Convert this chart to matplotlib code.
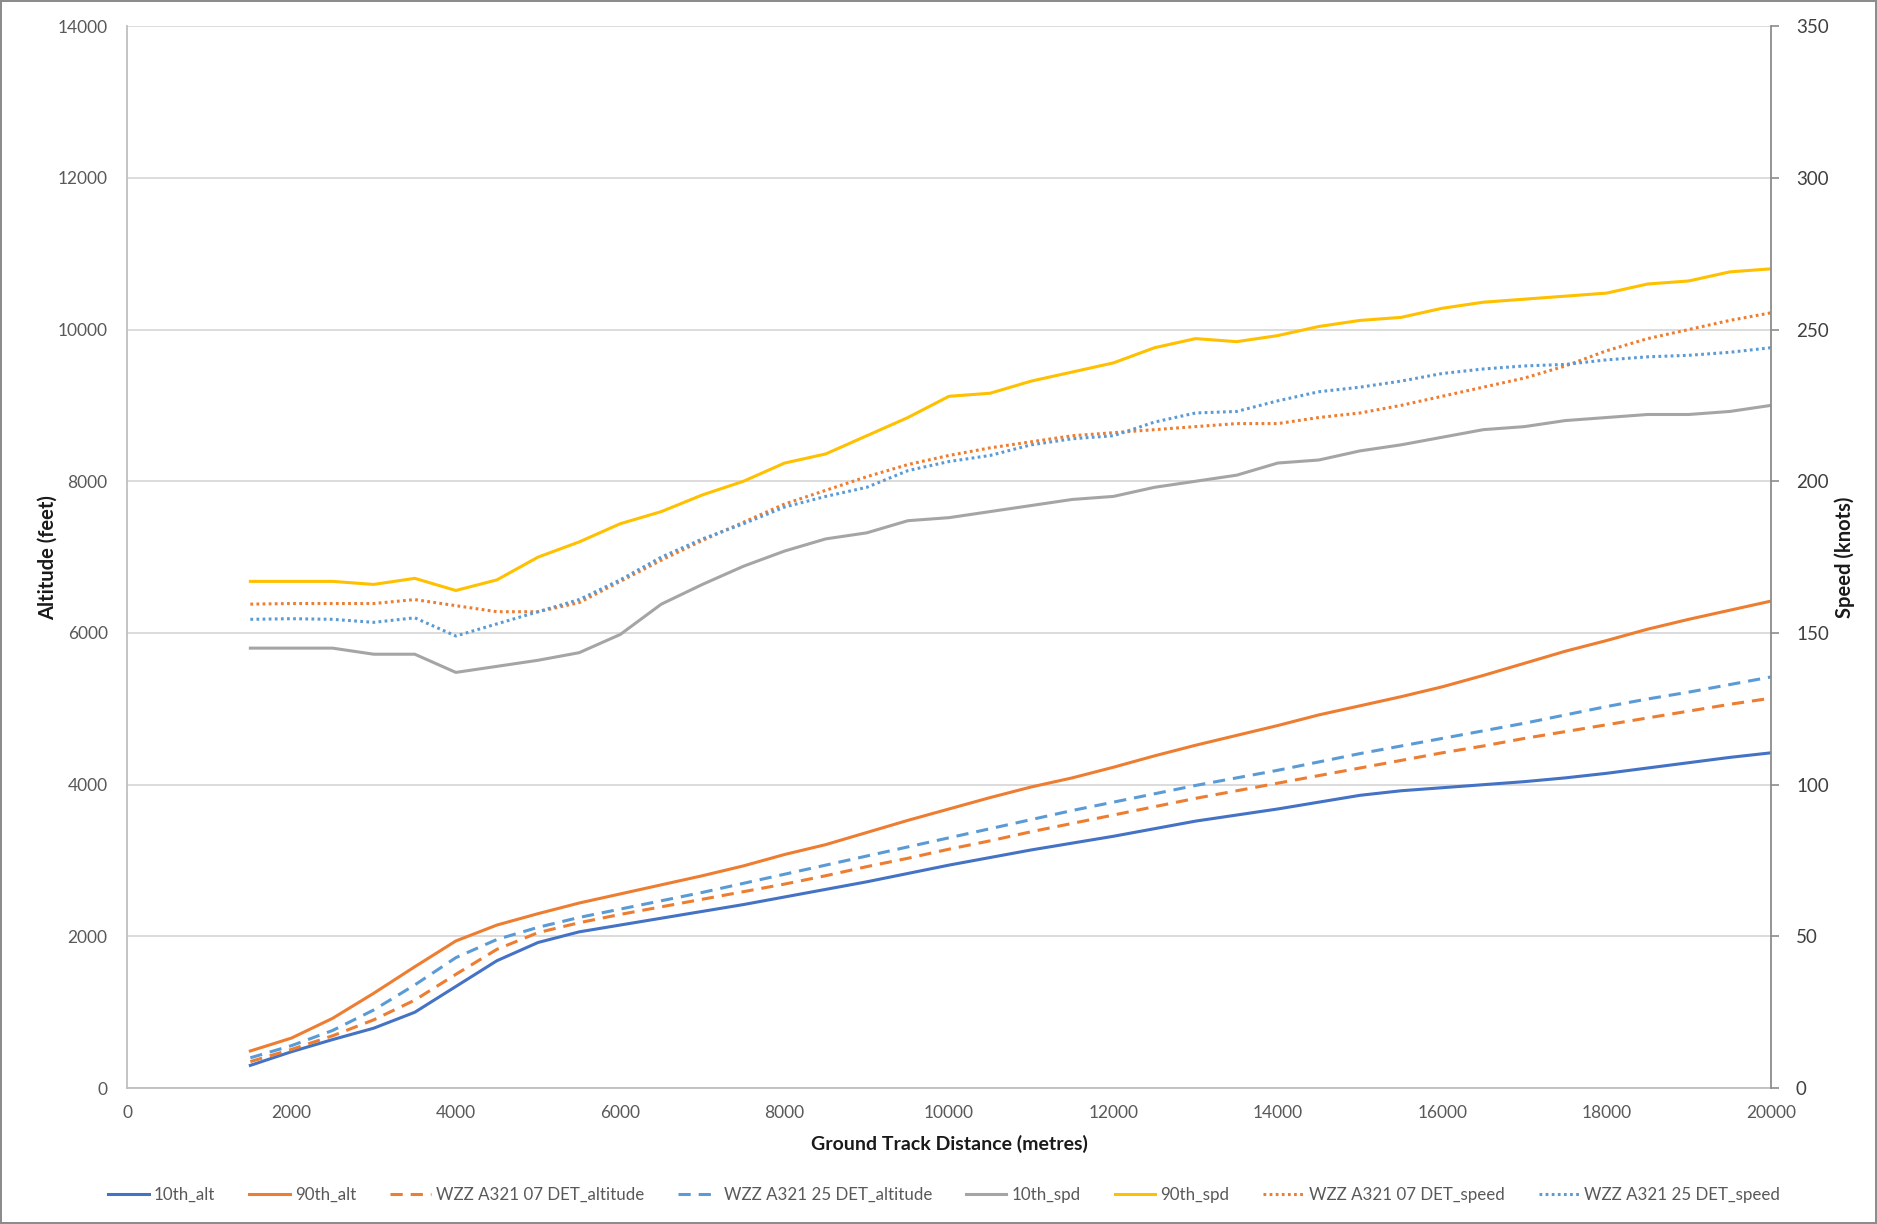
#!/usr/bin/env python3
# -*- coding: utf-8 -*-
"""Altitude / speed profiles against ground track distance (two y-axes)."""

import matplotlib
matplotlib.use('Agg')
import matplotlib.pyplot as plt

matplotlib.rcParams['font.family'] = ['Lato', 'DejaVu Sans']

# ground track distance (metres)
distance = [1500, 2000, 2500, 3000, 3500, 4000, 4500, 5000, 5500, 6000,
            6500, 7000, 7500, 8000, 8500, 9000, 9500, 10000, 10500, 11000,
            11500, 12000, 12500, 13000, 13500, 14000, 14500, 15000, 15500, 16000,
            16500, 17000, 17500, 18000, 18500, 19000, 19500, 20000]

# altitudes (feet)
alt_10th = [300, 480, 640, 790, 1000, 1340, 1680, 1920, 2060, 2150,
            2240, 2330, 2420, 2520, 2620, 2720, 2830, 2940, 3040, 3140,
            3230, 3320, 3420, 3520, 3600, 3680, 3770, 3860, 3920, 3960,
            4000, 4040, 4090, 4150, 4220, 4290, 4360, 4420]
alt_90th = [490, 660, 920, 1250, 1600, 1940, 2150, 2300, 2440, 2560,
            2680, 2800, 2930, 3080, 3210, 3370, 3530, 3680, 3830, 3970,
            4090, 4230, 4380, 4520, 4650, 4780, 4920, 5040, 5160, 5290,
            5440, 5600, 5760, 5900, 6050, 6180, 6300, 6420]
alt_det07 = [350, 510, 690, 900, 1160, 1500, 1830, 2050, 2180, 2290,
             2390, 2490, 2590, 2690, 2800, 2920, 3030, 3150, 3260, 3380,
             3490, 3600, 3710, 3820, 3920, 4020, 4120, 4220, 4320, 4420,
             4510, 4610, 4700, 4790, 4880, 4970, 5060, 5140]
alt_det25 = [400, 560, 760, 1030, 1360, 1720, 1960, 2120, 2250, 2360,
             2470, 2580, 2700, 2820, 2940, 3060, 3180, 3300, 3420, 3540,
             3660, 3770, 3880, 3990, 4090, 4190, 4300, 4410, 4510, 4610,
             4710, 4810, 4920, 5030, 5130, 5220, 5320, 5420]

# speeds (knots)
spd_10th = [145, 145, 145, 143, 143, 137, 139, 141, 143.5, 149.5,
            159.5, 166, 172, 177, 181, 183, 187, 188, 190, 192,
            194, 195, 198, 200, 202, 206, 207, 210, 212, 214.5,
            217, 218, 220, 221, 222, 222, 223, 225]
spd_90th = [167, 167, 167, 166, 168, 164, 167.5, 175, 180, 186,
            190, 195.5, 200, 206, 209, 215, 221, 228, 229, 233,
            236, 239, 244, 247, 246, 248, 251, 253, 254, 257,
            259, 260, 261, 262, 265, 266, 269, 270]
spd_det07 = [159.5, 159.7, 159.7, 159.7, 161, 159, 157, 157, 160, 167,
             174, 180.5, 186.5, 192.5, 197, 201.5, 205.5, 208.5, 211, 213,
             215, 216, 217, 218, 219, 219, 221, 222.5, 225, 228,
             231, 234, 238, 243, 247, 250, 253, 255.5]
spd_det25 = [154.5, 154.7, 154.5, 153.5, 155, 149, 153, 157, 161, 167.5,
             175, 181, 186, 191.5, 195, 198, 203.5, 206.5, 208.5, 212,
             214, 215, 219.5, 222.5, 223, 226.5, 229.5, 231, 233, 235.5,
             237, 238, 238.5, 240, 241, 241.5, 242.5, 244]

BLUE = '#4472C4'
ORANGE = '#ED7D31'
LBLUE = '#5B9BD5'
GRAY = '#A5A5A5'
GOLD = '#FFC000'

fig = plt.figure(figsize=(18.77, 12.24), dpi=100)
fig.patch.set_edgecolor('#8c8c8c')
fig.patch.set_linewidth(1.5)
ax = fig.add_axes([0.0677, 0.111, 0.8758, 0.8677])
ax2 = ax.twinx()

lw = 2.2
dash = (0, (4, 2.6))
dot = (0, (0.9, 1.1))

h1, = ax.plot(distance, alt_10th, color=BLUE, lw=lw, label='10th_alt')
h2, = ax.plot(distance, alt_90th, color=ORANGE, lw=lw, label='90th_alt')
h3, = ax.plot(distance, alt_det07, color=ORANGE, lw=lw, linestyle=dash,
              label='WZZ A321 07 DET_altitude')
h4, = ax.plot(distance, alt_det25, color=LBLUE, lw=lw, linestyle=dash,
              label='WZZ A321 25 DET_altitude')
h5, = ax2.plot(distance, spd_10th, color=GRAY, lw=lw, label='10th_spd')
h6, = ax2.plot(distance, spd_90th, color=GOLD, lw=lw, label='90th_spd')
h7, = ax2.plot(distance, spd_det07, color=ORANGE, lw=lw, linestyle=dot,
               label='WZZ A321 07 DET_speed')
h8, = ax2.plot(distance, spd_det25, color=LBLUE, lw=lw, linestyle=dot,
               label='WZZ A321 25 DET_speed')

ax.set_xlim(0, 20000)
ax.set_ylim(0, 14000)
ax2.set_ylim(0, 350)
ax.set_xticks(range(0, 20001, 2000))
ax.set_yticks(range(0, 14001, 2000))
ax2.set_yticks(range(0, 351, 50))

ax.grid(axis='y', color='#d9d9d9', linewidth=1.3)
ax.set_axisbelow(True)

ax.spines['top'].set_visible(False)
ax2.spines['top'].set_visible(False)
ax.spines['right'].set_visible(False)
ax.spines['left'].set_color('#bfbfbf')
ax.spines['bottom'].set_color('#bfbfbf')
ax.spines['left'].set_linewidth(1.3)
ax.spines['bottom'].set_linewidth(1.3)
ax2.spines['left'].set_visible(False)
ax2.spines['bottom'].set_visible(False)
ax2.spines['right'].set_color('#8c8c8c')
ax2.spines['right'].set_linewidth(1.3)

ax.tick_params(axis='both', length=0, labelsize=12.5, labelcolor='#595959')
ax.tick_params(axis='y', pad=14)
ax.tick_params(axis='x', pad=12)
ax2.tick_params(axis='y', length=6, width=1.2, color='#8c8c8c',
                labelsize=13.5, labelcolor='#404040', pad=12)

ax.set_xlabel('Ground Track Distance (metres)', fontsize=14, fontweight='bold',
              color='#1a1a1a', labelpad=10)
ax.set_ylabel('Altitude (feet)', fontsize=14.5, fontweight='bold',
              color='#1a1a1a', labelpad=0)
ax2.set_ylabel('Speed (knots)', fontsize=14.5, fontweight='bold',
               color='#1a1a1a', labelpad=4)

handles = [h1, h2, h3, h4, h5, h6, h7, h8]
leg = fig.legend(handles=handles, labels=[h.get_label() for h in handles],
                 loc='center', bbox_to_anchor=(0.503, 0.024), ncol=8,
                 frameon=False, fontsize=12.2, handlelength=2.4,
                 handletextpad=0.3, columnspacing=2.0)
for t in leg.get_texts():
    t.set_color('#595959')

fig.savefig('out.png', dpi=100)
